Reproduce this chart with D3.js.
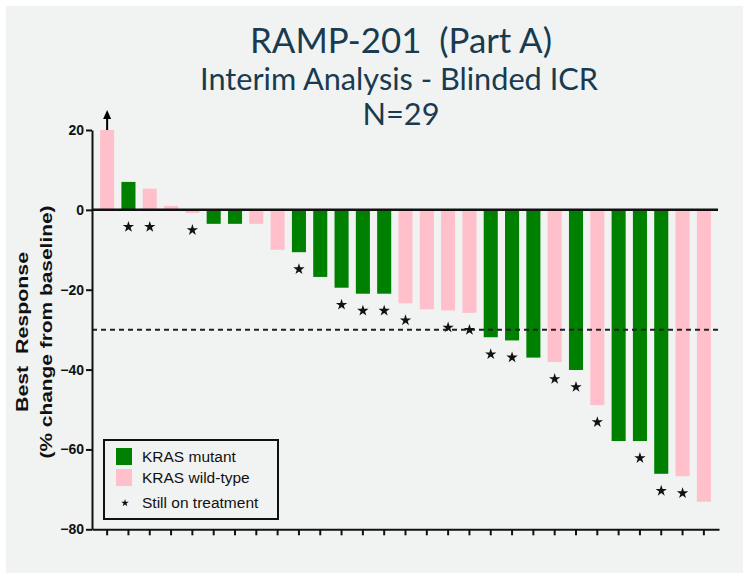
<!DOCTYPE html>
<html>
<head>
<meta charset="utf-8">
<script src="https://cdn.jsdelivr.net/npm/d3@7"></script>
<style>
  body { margin: 0; background: #fff; }
  .axis text { font-family: Arial, "Liberation Sans", sans-serif; font-weight: bold; font-size: 14px; fill: #111; }
  .axis path, .axis line { stroke: #111; stroke-width: 2; }
</style>
</head>
<body>
<div id="chart"></div>
<script>
// waterfall values (% change from baseline)
var responses = [20, 7.0, 5.3, 1.0, -0.8, -3.5, -3.5, -3.5, -10.0, -10.6, -16.8, -19.5, -21.0, -21.0,
  -23.4, -24.9, -25.2, -25.8, -31.9, -32.7, -37.0, -38.1, -40.1, -48.9, -57.9, -57.9, -66.1, -66.7, -73.1];
var kras = ["wt", "mut", "wt", "wt", "wt", "mut", "mut", "wt", "wt", "mut", "mut", "mut", "mut", "mut",
  "wt", "wt", "wt", "wt", "mut", "mut", "mut", "wt", "mut", "wt", "mut", "mut", "mut", "wt", "wt"];
var onTreatment = [0, 1, 1, 0, 1, 0, 0, 0, 0, 1, 0, 1, 1, 1, 1, 0, 1, 1, 1, 1, 0, 1, 1, 1, 0, 1, 1, 1, 0];
var truncated = [1, 0, 0, 0, 0, 0, 0, 0, 0, 0, 0, 0, 0, 0, 0, 0, 0, 0, 0, 0, 0, 0, 0, 0, 0, 0, 0, 0, 0];
var patients = ["P1", "P2", "P3", "P4", "P5", "P6", "P7", "P8", "P9", "P10", "P11", "P12", "P13", "P14", "P15",
  "P16", "P17", "P18", "P19", "P20", "P21", "P22", "P23", "P24", "P25", "P26", "P27", "P28", "P29"];
var yTicks = [20, 0, -20, -40, -60, -80];
var threshold = -30;
var legendItems = [
  { label: "KRAS mutant", type: "mut" },
  { label: "KRAS wild-type", type: "wt" },
  { label: "Still on treatment", type: "star" }
];

var colors = { mut: "#008000", wt: "#ffc0cb" };
var W = 749, H = 578;

var svg = d3.select("#chart").append("svg")
  .attr("width", W)
  .attr("height", H);

// grey panel
svg.append("rect")
  .attr("x", 6).attr("y", 6)
  .attr("width", 737).attr("height", 567)
  .attr("fill", "#f1f3f2");

// titles
var titleFont = "'Gill Sans', Lato, 'Open Sans', sans-serif";
function fitText(sel, target) {
  var w = sel.node().getComputedTextLength();
  var fs = parseFloat(sel.attr("font-size"));
  sel.attr("font-size", fs * target / w);
}
var t1 = svg.append("text").attr("x", 401).attr("y", 53)
  .attr("text-anchor", "middle").attr("font-family", titleFont).attr("font-size", 38)
  .attr("fill", "#183b50").style("white-space", "pre").text("RAMP-201  (Part A)");
fitText(t1, 302);
var t2 = svg.append("text").attr("x", 399).attr("y", 90)
  .attr("text-anchor", "middle").attr("font-family", titleFont).attr("font-size", 26)
  .attr("fill", "#183b50").text("Interim Analysis - Blinded ICR");
fitText(t2, 398);
var t3 = svg.append("text").attr("x", 401).attr("y", 125)
  .attr("text-anchor", "middle").attr("font-family", titleFont).attr("font-size", 26)
  .attr("fill", "#183b50").text("N=29");
fitText(t3, 77);

// scales
var x = d3.scaleBand().domain(patients).range([92, 719]).paddingInner(0.34).paddingOuter(0.38);
var y = d3.scaleLinear().domain([-80, 20]).range([529.3, 130]);

var data = patients.map(function (p, i) {
  return { id: p, v: responses[i], kras: kras[i], star: onTreatment[i], cut: truncated[i] };
});

// bars
svg.append("g").selectAll("rect")
  .data(data)
  .enter()
  .append("rect")
  .attr("x", function (d) { return x(d.id); })
  .attr("width", x.bandwidth())
  .attr("y", function (d) { return y(Math.max(0, d.v)); })
  .attr("height", function (d) { return Math.abs(y(d.v) - y(0)); })
  .attr("fill", function (d) { return colors[d.kras]; });

// threshold line
svg.append("line")
  .attr("x1", 92).attr("x2", 718)
  .attr("y1", y(threshold)).attr("y2", y(threshold))
  .attr("stroke", "#222").attr("stroke-width", 2)
  .attr("stroke-dasharray", "5,4");

// zero line
svg.append("line")
  .attr("x1", 92).attr("x2", 718)
  .attr("y1", y(0)).attr("y2", y(0))
  .attr("stroke", "#111").attr("stroke-width", 2.5);

// still on treatment stars
var star = d3.symbol().type(d3.symbolStar).size(40);
svg.append("g").selectAll("path")
  .data(data.filter(function (d) { return d.star; }))
  .enter()
  .append("path")
  .attr("d", star)
  .attr("fill", "#111")
  .attr("transform", function (d) {
    return "translate(" + (x(d.id) + x.bandwidth() / 2) + "," + (y(Math.min(0, d.v)) + 17) + ")";
  });

// arrow on the truncated bar
data.filter(function (d) { return d.cut; }).forEach(function (d) {
  var cx = x(d.id) + x.bandwidth() / 2;
  svg.append("line")
    .attr("x1", cx).attr("x2", cx)
    .attr("y1", y(d.v)).attr("y2", y(d.v) - 12)
    .attr("stroke", "#000").attr("stroke-width", 2);
  svg.append("path")
    .attr("d", "M" + (cx - 4) + "," + (y(d.v) - 11) + "L" + cx + "," + (y(d.v) - 20) + "L" + (cx + 4) + "," + (y(d.v) - 11) + "Z")
    .attr("fill", "#000");
});

// axes
svg.append("g")
  .attr("class", "axis")
  .attr("transform", "translate(92,0)")
  .call(d3.axisLeft(y).tickValues(yTicks).tickSize(6).tickSizeOuter(0).tickPadding(2));

svg.append("g")
  .attr("class", "axis")
  .attr("transform", "translate(0," + y(-80) + ")")
  .call(d3.axisBottom(x).tickSize(6).tickSizeOuter(0).tickFormat(""));

// y label (stretched along its length like the original)
var yl = svg.append("g").attr("transform", "translate(22,332) rotate(-90)");
yl.append("text").attr("text-anchor", "middle").attr("dy", "0.35em")
  .attr("font-family", "Arial, 'Liberation Sans', sans-serif").attr("font-weight", "bold").attr("font-size", 17)
  .attr("textLength", 160).attr("lengthAdjust", "spacingAndGlyphs")
  .attr("fill", "#111").style("white-space", "pre").text("Best  Response");
yl.append("text").attr("text-anchor", "middle").attr("y", 24).attr("dy", "0.35em")
  .attr("font-family", "Arial, 'Liberation Sans', sans-serif").attr("font-weight", "bold").attr("font-size", 17)
  .attr("textLength", 253).attr("lengthAdjust", "spacingAndGlyphs")
  .attr("fill", "#111").text("(% change from baseline)");

// legend
var lg = svg.append("g").attr("transform", "translate(104,440)");
lg.append("rect").attr("width", 174).attr("height", 79)
  .attr("fill", "#f1f3f2").attr("stroke", "#111").attr("stroke-width", 2);
var li = lg.selectAll(".li").data(legendItems).enter().append("g")
  .attr("transform", function (d, i) { return "translate(0," + [17, 38, 63][i] + ")"; });
li.filter(function (d) { return d.type !== "star"; })
  .append("rect").attr("x", 12).attr("y", -9).attr("width", 16).attr("height", 17)
  .attr("fill", function (d) { return colors[d.type]; });
li.filter(function (d) { return d.type === "star"; })
  .append("path").attr("d", d3.symbol().type(d3.symbolStar).size(18))
  .attr("transform", "translate(21,0)").attr("fill", "#111");
li.append("text").attr("x", 38).attr("dy", "0.35em")
  .attr("font-family", "Arial, 'Liberation Sans', sans-serif").attr("font-size", 15.5)
  .attr("fill", "#111").text(function (d) { return d.label; });
</script>
</body>
</html>
